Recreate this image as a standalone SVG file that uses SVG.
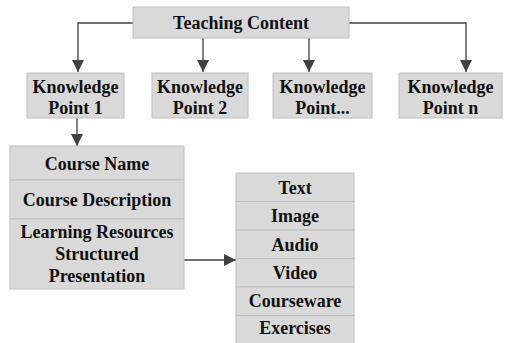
<svg xmlns="http://www.w3.org/2000/svg" width="505" height="343" viewBox="0 0 505 343">
<style>
.b{fill:#d9d9d9;stroke:#c0c0c0;stroke-width:1}
.t{font-family:"Liberation Serif","Times New Roman",serif;font-weight:bold;font-size:18px;fill:#111;text-anchor:middle;dominant-baseline:central}
.c{fill:none;stroke:#404040;stroke-width:1.3}
</style>
<defs>
<marker id="a" viewBox="0 0 12 12" refX="12" refY="6" markerWidth="12" markerHeight="12" markerUnits="userSpaceOnUse" orient="auto">
<path d="M0,0 L12,6 L0,12 Z" fill="#404040"/>
</marker>
</defs>
<rect width="505" height="343" fill="#fff"/>
<g id="connectors">
<path class="c" d="M133,23 H78 V72" marker-end="url(#a)"/>
<path class="c" d="M203,38 V72" marker-end="url(#a)"/>
<path class="c" d="M309,38 V72" marker-end="url(#a)"/>
<path class="c" d="M349,23 H466 V72" marker-end="url(#a)"/>
<path class="c" d="M77,118 V146" marker-end="url(#a)"/>
<path class="c" d="M184,260 H236" marker-end="url(#a)"/>
</g>
<g id="teaching-content">
<rect class="b" x="133" y="7" width="216" height="31"/>
<text class="t" x="241" y="23">Teaching Content</text>
</g>
<g id="kp1">
<rect class="b" x="27" y="73" width="97" height="45"/>
<text class="t" x="75.5" y="87">Knowledge</text>
<text class="t" x="75.5" y="108">Point 1</text>
</g>
<g id="kp2">
<rect class="b" x="152" y="73" width="96" height="45"/>
<text class="t" x="200" y="87">Knowledge</text>
<text class="t" x="200" y="108">Point 2</text>
</g>
<g id="kp3">
<rect class="b" x="273" y="73" width="99" height="45"/>
<text class="t" x="322.5" y="87">Knowledge</text>
<text class="t" x="322.5" y="108">Point...</text>
</g>
<g id="kpn">
<rect class="b" x="399" y="73" width="103" height="45"/>
<text class="t" x="450.5" y="87">Knowledge</text>
<text class="t" x="450.5" y="108">Point n</text>
</g>
<g id="course">
<rect class="b" x="10" y="146" width="174" height="34"/>
<text class="t" x="97" y="164">Course Name</text>
<rect class="b" x="10" y="180" width="174" height="39"/>
<text class="t" x="97" y="200">Course Description</text>
<rect class="b" x="10" y="219" width="174" height="70"/>
<text class="t" x="97" y="232">Learning Resources</text>
<text class="t" x="97" y="254">Structured</text>
<text class="t" x="97" y="276">Presentation</text>
</g>
<g id="resources">
<rect class="b" x="236" y="173" width="118" height="28.5"/>
<text class="t" x="295" y="188">Text</text>
<rect class="b" x="236" y="201.5" width="118" height="28.5"/>
<text class="t" x="295" y="216">Image</text>
<rect class="b" x="236" y="230" width="118" height="28.5"/>
<text class="t" x="295" y="245">Audio</text>
<rect class="b" x="236" y="258.5" width="118" height="28.5"/>
<text class="t" x="295" y="273">Video</text>
<rect class="b" x="236" y="287" width="118" height="28.5"/>
<text class="t" x="295" y="301">Courseware</text>
<rect class="b" x="236" y="315.5" width="118" height="28.5"/>
<text class="t" x="295" y="328">Exercises</text>
</g>
</svg>
